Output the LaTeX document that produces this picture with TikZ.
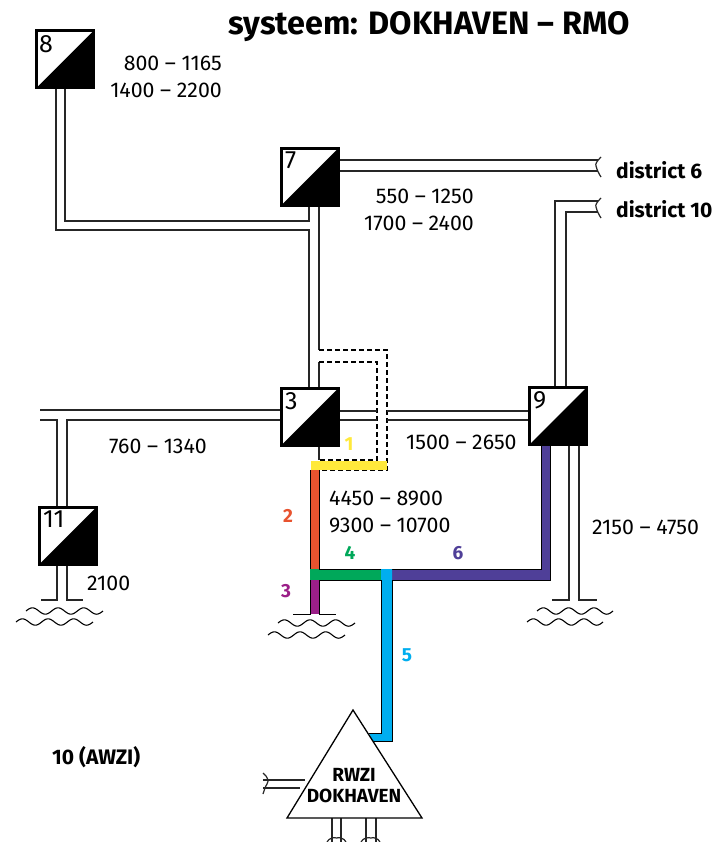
\documentclass[tikz,border=0pt]{standalone}
\usepackage{fontspec}
\setmainfont{Fira Sans}
\definecolor{cyel}{HTML}{FFE93B}
\definecolor{cred}{HTML}{E8532F}
\definecolor{cgrn}{HTML}{00A85A}
\definecolor{cmag}{HTML}{9B1F88}
\definecolor{cblu}{HTML}{00AEEF}
\definecolor{cind}{HTML}{4F3F98}
\tikzset{
  pipe/.style={draw=black!85,line width=1.2pt},
  dashpipe/.style={draw=black,line width=1.1pt,dash pattern=on 5pt off 3pt},
  unitbox/.style={draw=black,line width=3pt,fill=white,minimum size=57pt,inner sep=0pt,
    path picture={\fill[black] (path picture bounding box.south west) -- (path picture bounding box.north east) -- (path picture bounding box.south east) -- cycle;}},
  boxnum/.style={font=\fontsize{25}{25}\selectfont,inner sep=0pt,anchor=north west},
  rangetxt/.style={font=\fontsize{21.3}{27}\selectfont,inner sep=0pt},
  labelb/.style={font=\fontsize{21}{23}\selectfont\bfseries,inner sep=0pt},
  pnum/.style={font=\fontsize{19}{20}\selectfont\bfseries,inner sep=0pt},
  thinedge/.style={draw=black,line width=1pt},
}
\newcommand{\wavepair}[4]{%
  \draw[black,line width=1.1pt] plot[smooth,domain=0:#3,samples=50] ({#1+\x},{#2-3.2*sin(\x/#3*1080)});%
  \draw[black,line width=1.1pt] plot[smooth,domain=0:#3,samples=50] ({#1-10+\x},{#4-3.2*sin(\x/#3*1080)});%
}
\begin{document}
\begin{tikzpicture}[x=1pt,y=-1pt]
\useasboundingbox (0,0) rectangle (715,842);
\fill[white] (0,0) rectangle (715,842);

% free ends of pipes
\coordinate (d6a) at (598,160);
\coordinate (d6b) at (598,171);
\coordinate (d10a) at (598,201);
\coordinate (d10b) at (598,212);
\coordinate (wa) at (40,410);
\coordinate (wb) at (40,420);

% units (positions first, drawn again below over the pipes)
\node[unitbox] (b8) at (65,59.5) {};
\node[unitbox] (b7) at (309.5,177) {};
\node[unitbox] (b3) at (310,416.5) {};
\node[unitbox] (b9) at (558,416) {};
\node[unitbox] (b11) at (68,535.5) {};

% triangle
\coordinate (tA) at (353,710);
\coordinate (tL) at (287,818);
\coordinate (tR) at (422,818);

% pipe 8 - 7
\draw[pipe] ([xshift=-9pt]b8.south) -- (56,230) -- (309,230) -- (309,387);
\draw[pipe] (65,89) -- (65,221) -- (309,221) -- (309,207);
% pipe 7 - 3
\draw[pipe] (319,207) -- (319,350);
\draw[pipe] (319,362) -- (319,387);
\draw[pipe] (319,446) -- (319,460);
% dashed bypass
\draw[dashpipe] (319,350) -- (387,350) -- (387,470) -- (319,470);
\draw[dashpipe] (319,362) -- (377,362) -- (377,460) -- (319,460);
% pipe 3 - 9
\draw[pipe] (340,411) -- (377,411);
\draw[pipe] (340,420) -- (377,420);
\draw[pipe] (387,411) -- (528,411);
\draw[pipe] (387,420) -- (528,420);
% west pipe and 11
\draw[pipe] (wa) -- (280,410);
\draw[pipe] (wb) -- (57,420) -- (57,506);
\draw[pipe] (280,420) -- (67,420) -- (67,506);
\draw[pipe] (57,565) -- (57,600) -- (41,600);
\draw[pipe] (67,565) -- (67,600) -- (83,600);
\wavepair{26}{611}{77}{622}
% 7 to district 6
\draw[pipe] (339,160) -- (d6a);
\draw[pipe] (339,171) -- (d6b);
\draw[pipe] (601,157) .. controls (597,161) and (595,164) .. (596,166) .. controls (597,170) and (599,174) .. (601,177);
% 9 to district 10
\draw[pipe] (555,386) -- (555,201) -- (d10a);
\draw[pipe] (566,386) -- (566,212) -- (d10b);
\draw[pipe] (601,198) .. controls (597,202) and (595,205) .. (596,207) .. controls (597,211) and (599,215) .. (601,218);
% 9 south
\draw[pipe] (569,446) -- (569,600) -- (552,600);
\draw[pipe] (579,446) -- (579,600) -- (597,600);
\wavepair{537}{611}{76}{622}
% coloured pipes
\fill[cind] (541,446) -- (550,446) -- (550,580) -- (382,580) -- (382,569) -- (541,569) -- cycle;
\draw[thinedge] (541,446) -- (541,569) -- (391,569);
\draw[thinedge] (550,446) -- (550,580) -- (391,580);
\fill[cred] (310,470) rectangle (319,569);
\draw[thinedge] (310,470) -- (310,569);
\draw[thinedge] (319,470) -- (319,569);
\fill[cmag] (310,580) rectangle (319,614);
\draw[thinedge] (310,580) -- (310,614) -- (293,614);
\draw[thinedge] (319,580) -- (319,614) -- (336,614);
\fill[cgrn] (310,569) rectangle (382,580);
\draw[thinedge] (319,569) -- (382,569);
\draw[thinedge] (319,580) -- (381,580);
\wavepair{278}{623}{77}{635}
\fill[cblu] (381,569) -- (392,569) -- (392,741) -- (372,741) -- (369,733) -- (381,733) -- cycle;
\draw[thinedge] (381,580) -- (381,733) -- (369,733);
\draw[thinedge] (392,580) -- (392,741) -- (373,741);
\fill[cyel] (311,461) rectangle (387,470);
% treatment plant
\draw[pipe] (263,780) -- (305,780);
\draw[pipe] (263,788) -- (300,788);
\draw[pipe] (263,773) .. controls (268,777) and (269,781) .. (267,784) .. controls (265,787) and (264,791) .. (263,794);
\draw[pipe] (332,818) -- (332,842);
\draw[pipe] (341,818) -- (341,842);
\draw[pipe] (366,818) -- (366,842);
\draw[pipe] (376,818) -- (376,842);
\draw[pipe] (327,842) .. controls (329,838) and (334,837) .. (336.5,838) .. controls (339,837) and (344,838) .. (346,842);
\draw[pipe] (361,842) .. controls (363,838) and (368,837) .. (371,838) .. controls (373,837) and (378,838) .. (380,842);
\draw[black,line width=1.3pt,fill=white,line join=miter] (tA) -- (tR) -- (tL) -- cycle;

% units on top
\node[unitbox] at (b8) {};
\node[unitbox] at (b7) {};
\node[unitbox] at (b3) {};
\node[unitbox] at (b9) {};
\node[unitbox] at (b11) {};
\node[boxnum] (n8) at (39,35) {8};
\node[boxnum] (n7) at (285,152) {7};
\node[boxnum] (n3) at (285,392) {3};
\node[boxnum] (n9) at (533,391) {9};
\node[boxnum] (n11) at (43,511) {11};

% texts
\node[font=\fontsize{32.4}{34}\selectfont\bfseries,inner sep=0pt] (title) at (429,27) {systeem: DOKHAVEN – RMO};
\node[rangetxt,align=right,anchor=east] (r1) at (222,77) {800 – 1165\\1400 – 2200};
\node[rangetxt,align=right,anchor=east] (r2) at (474,210) {550 – 1250\\1700 – 2400};
\node[rangetxt,anchor=west] (r3) at (109,446) {760 – 1340};
\node[rangetxt,anchor=west] (r4) at (406,442) {1500 – 2650};
\node[rangetxt,align=left,anchor=west] (r5) at (329,512) {4450 – 8900\\9300 – 10700};
\node[rangetxt,anchor=west] (r6) at (592,527) {2150 – 4750};
\node[rangetxt,anchor=west] (r7) at (87,583) {2100};
\node[labelb,anchor=west] (d6) at (616,170) {district 6};
\node[labelb,anchor=west] (d10) at (616,209) {district 10};
\node[labelb,anchor=west] (awzi) at (52,757) {10 (AWZI)};
\node[labelb,align=center,font=\fontsize{19}{21}\selectfont\bfseries] (rwzi) at (354,786) {RWZI\\DOKHAVEN};
\node[pnum,text=cyel] (p1) at (349,444) {1};
\node[pnum,text=cred] (p2) at (288,516) {2};
\node[pnum,text=cmag] (p3) at (286,591) {3};
\node[pnum,text=cgrn] (p4) at (350,553) {4};
\node[pnum,text=cblu] (p5) at (407,655) {5};
\node[pnum,text=cind] (p6) at (458,553) {6};
\end{tikzpicture}
\end{document}
